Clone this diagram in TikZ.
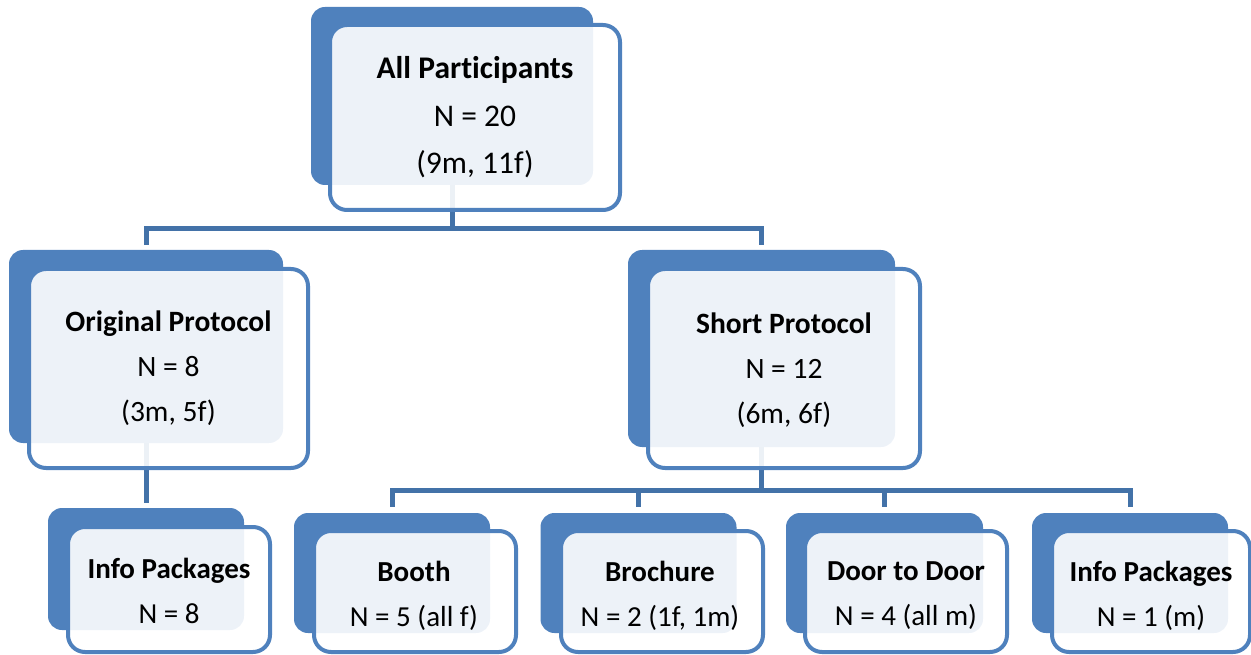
\documentclass[tikz,border=0pt]{standalone}
\usepackage{fontspec}
\setmainfont[Ligatures=NoCommon]{Carlito}
\pgfdeclarelayer{bg}
\pgfsetlayers{bg,main}
\definecolor{boxblue}{HTML}{4F81BD}
\definecolor{lineblue}{HTML}{4372A8}
\tikzset{
  backbox/.style={fill=boxblue, draw=none, rounded corners=14pt, inner sep=0pt},
  frontbox/.style={draw=boxblue, line width=4pt, fill=white, fill opacity=0.9, text opacity=1,
     rounded corners=17pt, inner sep=0pt, align=center, text=black},
  boxtext/.style={inner sep=0pt, align=center, text=black},
  toptext/.style={font=\fontsize{31.5}{47.5}\selectfont},
  midtext/.style={font=\fontsize{29.5}{45}\selectfont},
  smalltext/.style={font=\fontsize{29}{45}\selectfont},
  conn/.style={draw=lineblue, line width=5pt}
}
\begin{document}
\begin{tikzpicture}[x=1pt,y=-1pt]
\useasboundingbox (0,0) rectangle (1251,655);
% top
\node[backbox, minimum width=282pt, minimum height=178pt] (topb) at (452,96) {};
\node[frontbox, minimum width=290pt, minimum height=185pt] (topf) at (475,117.5) {};
\node[boxtext, toptext] (topt) at (topf.center)
  {\textbf{All Participants}\\N = 20\\(9m, 11f)};
% original protocol
\node[backbox, minimum width=274pt, minimum height=193pt] (origb) at (146,346.5) {};
\node[frontbox, minimum width=279pt, minimum height=199pt] (origf) at (168.5,368.5) {};
\node[boxtext, midtext] (origt) at (origf.center)
  {\textbf{Original Protocol}\\N = 8\\(3m, 5f)};
% short protocol
\node[backbox, minimum width=267pt, minimum height=197pt] (shortb) at (761.5,348.5) {};
\node[frontbox, minimum width=272pt, minimum height=199pt] (shortf) at (784,368.5) {};
\node[boxtext, midtext] (shortt) at ([yshift=-2pt]shortf.center)
  {\textbf{Short Protocol}\\N = 12\\(6m, 6f)};
% info packages left
\node[backbox, minimum width=196pt, minimum height=122pt] (infolb) at (146,569) {};
\node[frontbox, minimum width=202pt, minimum height=125pt] (infolf) at (169,589.5) {};
\node[boxtext, smalltext] (infolt) at ([yshift=-1pt]infolf.center)
  {\textbf{Info Packages}\\N = 8};
% booth
\node[backbox, minimum width=196pt, minimum height=120pt] (boothb) at (392,573) {};
\node[frontbox, minimum width=202pt, minimum height=121pt] (boothf) at (415,591.5) {};
\node[boxtext, smalltext] (bootht) at ([xshift=-1pt,yshift=-4pt]boothf.center)
  {\textbf{Booth}\\N = 5 (all f)};
% brochure
\node[backbox, minimum width=196pt, minimum height=120pt] (brochb) at (638.5,573) {};
\node[frontbox, minimum width=202pt, minimum height=121pt] (brochf) at (662,591.5) {};
\node[boxtext, smalltext] (brocht) at ([xshift=-2pt,yshift=-4pt]brochf.center)
  {\textbf{Brochure}\\N = 2 (1f, 1m)};
% door to door
\node[backbox, minimum width=197pt, minimum height=120pt] (doorb) at (884.5,573) {};
\node[frontbox, minimum width=202pt, minimum height=121pt] (doorf) at (906,591.5) {};
\node[boxtext, smalltext] (doort) at ([yshift=-4pt]doorf.center)
  {\textbf{Door to Door}\\N = 4 (all m)};
% info packages right
\node[backbox, minimum width=196pt, minimum height=120pt] (inforb) at (1130,573) {};
\node[frontbox, minimum width=198pt, minimum height=121pt] (inforf) at (1151,591.5) {};
\node[boxtext, smalltext] (infort) at ([yshift=-4pt]inforf.center)
  {\textbf{Info Packages}\\N = 1 (m)};
% connectors
\coordinate (j1) at (452,229);
\coordinate (j2) at (761.5,490);
\begin{pgfonlayer}{bg}
\draw[conn] (topb.south) -- (j1);
\draw[conn, shorten >=5pt] (j1) -| (origb.north);
\draw[conn, shorten >=5pt] (j1) -| (shortb.north);
\draw[conn, shorten >=5pt] (origb.south) -- (infolb.north);
\draw[conn] (shortb.south) -- (j2);
\draw[conn, shorten >=6pt] (j2) -| (boothb.north);
\draw[conn, shorten >=6pt] (j2) -| (brochb.north);
\draw[conn, shorten >=6pt] (j2) -| (doorb.north);
\draw[conn, shorten >=6pt] (j2) -| (inforb.north);
\end{pgfonlayer}
\end{tikzpicture}
\end{document}
